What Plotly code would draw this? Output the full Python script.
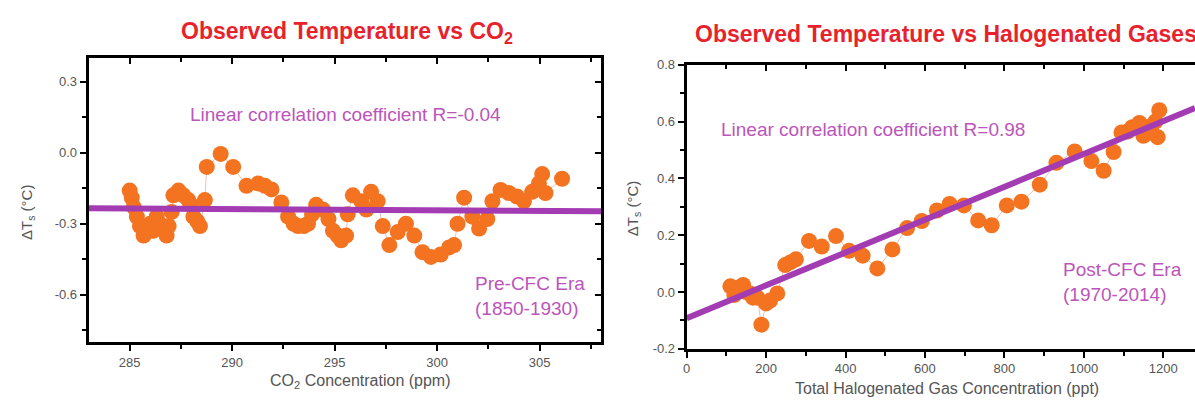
import plotly.graph_objects as go

W, H = 1195, 405

# Pre-CFC era (1850-1930): CO2 concentration (ppm) vs temperature anomaly (degC)
co2_ppm = [285.0, 285.1, 285.2, 285.35, 285.5, 285.68, 285.85, 286.0, 286.15, 286.32,
           286.45, 286.6, 286.8, 286.9, 287.05, 287.13, 287.38, 287.62, 287.86, 288.0,
           288.11, 288.3, 288.43, 288.67, 288.76, 289.44, 290.05, 290.7, 291.27, 291.6,
           291.92, 292.4, 292.73, 293.0, 293.21, 293.5, 293.7, 293.9, 294.1, 294.43,
           294.7, 294.92, 295.15, 295.32, 295.56, 295.64, 295.89, 296.3, 296.55, 296.78,
           297.1, 297.35, 297.67, 298.08, 298.48, 298.89, 299.29, 299.7, 300.18, 300.59,
           300.83, 301.0, 301.32, 301.72, 302.05, 302.45, 302.7, 303.1, 303.5, 303.9,
           304.24, 304.64, 304.97, 305.13, 305.29, 306.1]
co2_dT = [-0.16, -0.19, -0.23, -0.27, -0.31, -0.35, -0.32, -0.30, -0.33, -0.27,
          -0.30, -0.32, -0.35, -0.31, -0.25, -0.18, -0.16, -0.18, -0.20, -0.22,
          -0.27, -0.29, -0.31, -0.20, -0.06, -0.005, -0.06, -0.14, -0.13, -0.14,
          -0.155, -0.21, -0.27, -0.30, -0.31, -0.31, -0.30, -0.26, -0.22, -0.24,
          -0.28, -0.33, -0.35, -0.37, -0.35, -0.26, -0.18, -0.205, -0.24, -0.165,
          -0.205, -0.31, -0.39, -0.335, -0.30, -0.35, -0.42, -0.44, -0.43, -0.40,
          -0.39, -0.30, -0.19, -0.27, -0.32, -0.28, -0.205, -0.157, -0.17, -0.185,
          -0.205, -0.165, -0.13, -0.09, -0.17, -0.11]
co2_fit_x = [283.0, 308.0]
co2_fit_y = [-0.235, -0.247]

# Post-CFC era (1970-2014): total halogenated gas (ppt) vs temperature anomaly (degC)
halo_ppt = [110, 120, 130, 142, 150, 160, 167, 178, 188, 200,
            210, 228, 248, 262, 275, 308, 340, 376, 409, 443,
            480, 518, 555, 592, 630, 662, 698, 734, 768, 806,
            843, 889, 931, 977, 1019, 1050, 1075, 1095, 1110, 1122,
            1140, 1150, 1160, 1172, 1180, 1186, 1190]
halo_dT = [0.02, -0.01, 0.015, 0.025, 0.0, -0.005, -0.02, -0.02, -0.115, -0.04,
           -0.03, -0.005, 0.095, 0.105, 0.115, 0.18, 0.16, 0.197, 0.145, 0.128,
           0.083, 0.15, 0.225, 0.25, 0.287, 0.31, 0.305, 0.252, 0.235, 0.305,
           0.318, 0.378, 0.455, 0.495, 0.461, 0.427, 0.493, 0.562, 0.565, 0.58,
           0.595, 0.55, 0.58, 0.56, 0.60, 0.545, 0.64]
halo_fit_x = [0.0, 1280.0]
halo_fit_y = [-0.092, 0.648]

co2_xticks = [285, 290, 295, 300, 305]
co2_yticks = [0.3, 0.0, -0.3, -0.6]
co2_yticktext = ["0.3", "0.0", "-0.3", "-0.6"]
halo_xticks = [0, 200, 400, 600, 800, 1000, 1200]
halo_yticks = [-0.2, 0.0, 0.2, 0.4, 0.6, 0.8]
halo_yticktext = ["-0.2", "0.0", "0.2", "0.4", "0.6", "0.8"]

FONT = "Liberation Sans, Arial, sans-serif"
ORANGE = "#f37321"
THIN = "rgba(190,120,80,0.55)"
PURPLE = "#a33bb3"
LABEL = "#bb55bb"
RED = "#e8222c"
GREY = "#555555"


def px(x):
    return x / W


def py(y):
    return 1 - y / H


fig = go.Figure()

fig.add_trace(go.Scatter(x=co2_ppm, y=co2_dT, mode="lines+markers",
                         line=dict(color=THIN, width=0.8),
                         marker=dict(color=ORANGE, size=16, line=dict(width=0)),
                         xaxis="x", yaxis="y"))
fig.add_trace(go.Scatter(x=co2_fit_x, y=co2_fit_y, mode="lines",
                         line=dict(color=PURPLE, width=6), xaxis="x", yaxis="y"))
fig.add_trace(go.Scatter(x=halo_ppt, y=halo_dT, mode="lines+markers",
                         line=dict(color=THIN, width=0.8),
                         marker=dict(color=ORANGE, size=16, line=dict(width=0)),
                         xaxis="x2", yaxis="y2"))
fig.add_trace(go.Scatter(x=halo_fit_x, y=halo_fit_y, mode="lines",
                         line=dict(color=PURPLE, width=6), xaxis="x2", yaxis="y2"))
# empty traces so the frame axes (top / right) get their own subplots
fig.add_trace(go.Scatter(x=[None], y=[None], xaxis="x3", yaxis="y3",
                         hoverinfo="skip", showlegend=False))
fig.add_trace(go.Scatter(x=[None], y=[None], xaxis="x4", yaxis="y2",
                         hoverinfo="skip", showlegend=False))

tickfont = dict(family=FONT, size=13, color=GREY)
base = dict(showline=True, linecolor="black", linewidth=3, showgrid=False,
            zeroline=False, tickcolor="black", tickwidth=2, ticklen=6,
            tickfont=tickfont, fixedrange=True)


def minor(dtick, side):
    return dict(ticks=side, ticklen=4, tickwidth=2, tickcolor="black",
                dtick=dtick, tick0=0, showgrid=False)


left_x = [px(85), px(599)]
left_y = [py(348), py(53)]
right_x = [px(685), 1.0]
right_y = [py(355), py(60)]

fig.update_layout(
    width=W, height=H, margin=dict(l=0, r=0, t=0, b=0),
    paper_bgcolor="white", plot_bgcolor="white", showlegend=False,
    xaxis=dict(base, domain=left_x, range=[283, 308], anchor="y",
               ticks="outside", tickmode="array", tickvals=co2_xticks,
               minor=minor(2.5, "outside")),
    yaxis=dict(base, domain=left_y, range=[-0.8, 0.4], anchor="x",
               ticks="outside", tickmode="array", tickvals=co2_yticks,
               ticktext=co2_yticktext, minor=minor(0.15, "outside")),
    xaxis3=dict(base, overlaying="x", side="top", anchor="y3", range=[283, 308],
                ticks="inside", tickmode="array", tickvals=co2_xticks,
                showticklabels=False, minor=minor(2.5, "inside")),
    yaxis3=dict(base, overlaying="y", side="right", anchor="x3", range=[-0.8, 0.4],
                ticks="inside", tickmode="array", tickvals=co2_yticks,
                showticklabels=False, minor=minor(0.15, "inside")),
    xaxis2=dict(base, domain=right_x, range=[0, 1280], anchor="y2",
                ticks="outside", tickmode="array", tickvals=halo_xticks,
                minor=minor(100, "outside")),
    yaxis2=dict(base, domain=right_y, range=[-0.2, 0.8], anchor="x2",
                ticks="outside", tickmode="array", tickvals=halo_yticks,
                ticktext=halo_yticktext, minor=minor(0.1, "outside")),
    xaxis4=dict(base, overlaying="x2", side="top", anchor="y2", range=[0, 1280],
                ticks="inside", tickmode="array", tickvals=halo_xticks,
                showticklabels=False, minor=minor(100, "inside")),
)

ann = []


def text(x, y, s, size, color, xanchor="center", bold=False, angle=0, align="left"):
    ann.append(dict(x=px(x), y=py(y), xref="paper", yref="paper", text=s,
                    showarrow=False, xanchor=xanchor, yanchor="middle",
                    textangle=angle, align=align,
                    font=dict(family=FONT, size=size, color=color,
                              weight="bold" if bold else "normal")))


text(344, 26, "Observed Temperature vs CO<sub>2</sub>", 23, RED, bold=True)
text(691, 28, "Observed Temperature vs Halogenated Gases", 23, RED, xanchor="left", bold=True)
text(185, 112, "Linear correlation coefficient R=-0.04", 19, LABEL, xanchor="left")
text(471, 300, "Pre-CFC Era<br>(1850-1930)", 19, LABEL, xanchor="left")
text(717, 127, "Linear correlation coefficient R=0.98", 19, LABEL, xanchor="left")
text(1061, 286, "Post-CFC Era<br>(1970-2014)", 19, LABEL, xanchor="left")
text(358, 389, "CO<sub>2</sub> Concentration (ppm)", 16, GREY)
text(946, 396, "Total Halogenated Gas Concentration (ppt)", 16, GREY)
text(23, 213, "ΔT<sub>s</sub> (°C)", 15, GREY, angle=-90)
text(631, 209, "ΔT<sub>s</sub> (°C)", 15, GREY, angle=-90)

fig.update_layout(annotations=ann)

fig.write_html("out.html")
